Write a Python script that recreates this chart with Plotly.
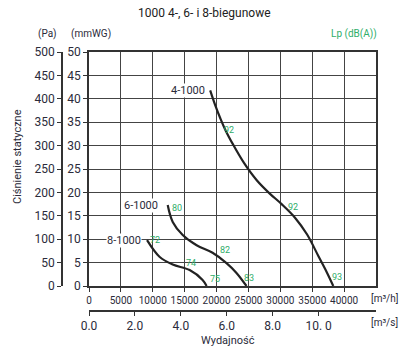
import plotly.graph_objects as go

W, H = 408, 357

# ---- data (flow in m3/h, static pressure in mmWG) ----
x_4 = [19000, 19800, 20600, 21400, 22600, 24300, 26300, 28300, 30200, 32300, 34200, 36000, 37300, 38300]
y_4 = [41.8, 38.6, 35.8, 33.3, 30.2, 26.3, 22.6, 19.8, 17.5, 14.6, 11.0, 6.3, 2.9, 0.0]
x_6 = [12340, 13125, 14690, 16875, 19375, 21560, 23125, 24690]
y_6 = [17.3, 13.7, 10.9, 8.7, 7.1, 4.9, 2.8, 0.0]
x_8 = [9100, 11090, 13125, 15780, 17810, 18440]
y_8 = [9.8, 6.2, 4.6, 3.4, 1.3, 0.0]

curve_names = ["4-1000", "6-1000", "8-1000"]
name_x = [15600, 8100, 5450]
name_y = [41.8, 17.2, 9.7]

lp_text = ["92", "92", "93", "80", "82", "83", "72", "74", "75"]
lp_x = [21900, 32000, 38900, 13750, 21400, 25150, 10350, 15950, 19700]
lp_y = [33.3, 16.9, 1.9, 16.7, 7.7, 1.7, 9.8, 4.9, 1.5]

x_ticks = [0, 5000, 10000, 15000, 20000, 25000, 30000, 35000, 40000]
mmwg_ticks = [0, 5, 10, 15, 20, 25, 30, 35, 40, 45, 50]
pa_ticks = [0, 50, 100, 150, 200, 250, 300, 350, 400, 450, 500]
m3s_ticks = [0, 2, 4, 6, 8, 10]
m3s_labels = ["0.0", "2.0", "4.0", "6.0", "8.0", "10. 0"]

X_MAX = 45000
Y_MAX = 50

FONT = "Roboto"
TXT = "#2b2b3a"
GREEN = "#2fae6a"
GRID = "#444444"

def px(x):
    return x / W

def py(y):
    return 1 - y / H

fig = go.Figure()

xd = [px(89), px(376)]
yd = [py(286), py(52)]

common = dict(zeroline=False, showline=True, linecolor="#333333", linewidth=1.5,
              ticks="outside", ticklen=4, tickcolor="#333333", automargin=False, tickangle=0)

fig.update_layout(
    width=W, height=H, margin=dict(l=0, r=0, t=0, b=0, autoexpand=False),
    template="none",
    paper_bgcolor="white", plot_bgcolor="white",
    font=dict(family=FONT, size=11, color=TXT),
    xaxis=dict(domain=xd, range=[0, X_MAX], tickvals=x_ticks, ticktext=[str(v) for v in x_ticks],
               showgrid=True, gridcolor=GRID, gridwidth=1.3, mirror=True,
               tickfont=dict(size=10, color=TXT), anchor="y", **common),
    yaxis=dict(domain=yd, range=[0, Y_MAX], tickvals=mmwg_ticks,
               showgrid=True, gridcolor=GRID, gridwidth=1.3, mirror=True,
               tickfont=dict(size=12, color=TXT), anchor="x", **common),
    xaxis3=dict(domain=[px(63), px(64)], range=[0, 1], visible=False, anchor="y2"),
    yaxis2=dict(domain=yd, anchor="x3", side="left", range=[0, 500],
                tickvals=pa_ticks, showgrid=False, tickfont=dict(size=12, color=TXT), **common),
    yaxis4=dict(domain=[py(310), py(309)], range=[0, 1], visible=False, anchor="x4"),
    xaxis4=dict(domain=xd, anchor="y4", side="bottom", range=[0, 12.5],
                tickvals=m3s_ticks, ticktext=m3s_labels, showgrid=False,
                tickfont=dict(size=12, color=TXT), **common),
)

for xs, ys in [(x_4, y_4), (x_6, y_6), (x_8, y_8)]:
    fig.add_trace(go.Scatter(x=xs, y=ys, mode="lines", line=dict(color="#222222", width=2.2, shape="spline"),
                             showlegend=False, hoverinfo="skip", xaxis="x", yaxis="y"))
# carrier traces for the secondary scales (Pa and m3/s)
fig.add_trace(go.Scatter(x=[None], y=[None], mode="markers", showlegend=False, xaxis="x3", yaxis="y2"))
fig.add_trace(go.Scatter(x=[None], y=[None], mode="markers", showlegend=False, xaxis="x4", yaxis="y4"))

ann = []
def paper_text(t, x, y, size=11, color=TXT, angle=0):
    ann.append(dict(text=t, x=px(x), y=py(y), xref="paper", yref="paper", showarrow=False,
                    xanchor="center", yanchor="middle", textangle=angle,
                    font=dict(family=FONT, size=size, color=color)))

paper_text("1000 4-, 6- i 8-biegunowe", 204, 13, size=12, color="#222222")
paper_text("(Pa)", 47, 34, size=10)
paper_text("(mmWG)", 91, 34, size=10)
paper_text("Lp (dB(A))", 354, 34, size=10, color=GREEN)
paper_text("Ciśnienie statyczne", 17, 157, size=11, angle=-90)
paper_text("Wydajność", 228, 340, size=11)
paper_text("[m³/h]", 384, 298, size=10)
paper_text("[m³/s]", 384, 322, size=10)

for t, x, y in zip(curve_names, name_x, name_y):
    ann.append(dict(text=t, x=x, y=y, xref="x", yref="y", showarrow=False, bgcolor="white",
                    font=dict(family=FONT, size=11, color=TXT), borderpad=0))
for t, x, y in zip(lp_text, lp_x, lp_y):
    ann.append(dict(text=t, x=x, y=y, xref="x", yref="y", showarrow=False,
                    font=dict(family=FONT, size=9, color=GREEN), borderpad=0))

fig.update_layout(annotations=ann)
fig.write_html("out.html", config={"displayModeBar": False},
               post_script="document.body.style.margin='0';")
